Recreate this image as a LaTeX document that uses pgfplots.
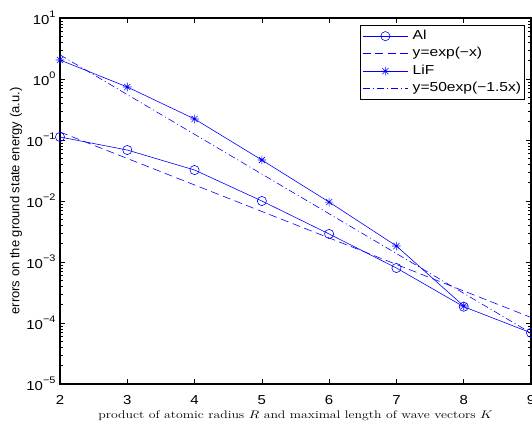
\documentclass[border=0pt]{standalone}
\usepackage{fontspec}
\setsansfont{Liberation Sans}
\usepackage{graphicx}
\usepackage{pgfplots}
\pgfplotsset{compat=1.18}

% MATLAB-like 8-arm star marker
\pgfdeclareplotmark{mstar}{%
  \pgfpathmoveto{\pgfqpoint{-\pgfplotmarksize}{0pt}}\pgfpathlineto{\pgfqpoint{\pgfplotmarksize}{0pt}}%
  \pgfpathmoveto{\pgfqpoint{0pt}{-\pgfplotmarksize}}\pgfpathlineto{\pgfqpoint{0pt}{\pgfplotmarksize}}%
  \pgfpathmoveto{\pgfqpoint{-0.707\pgfplotmarksize}{-0.707\pgfplotmarksize}}\pgfpathlineto{\pgfqpoint{0.707\pgfplotmarksize}{0.707\pgfplotmarksize}}%
  \pgfpathmoveto{\pgfqpoint{-0.707\pgfplotmarksize}{0.707\pgfplotmarksize}}\pgfpathlineto{\pgfqpoint{0.707\pgfplotmarksize}{-0.707\pgfplotmarksize}}%
  \pgfusepathqstroke}

\newcommand{\wide}[1]{\scalebox{1.15}[1]{#1}}
\newcommand{\dec}[1]{\wide{10\raisebox{0.52em}{\fontsize{9.5}{10}\selectfont #1}}}
\newcommand{\leg}[1]{\scalebox{1.2}[1]{#1}}

\begin{document}
\begin{tikzpicture}
\begin{axis}[
    scale only axis,
    width=471pt,
    height=366pt,
    ymode=log,
    xmin=2, xmax=9,
    ymin=1e-5, ymax=1e1,
    xtick={2,3,4,5,6,7,8,9},
    xticklabels={\wide{2},\wide{3},\wide{4},\wide{5},\wide{6},\wide{7},\wide{8},\wide{9}},
    ytick={1e-5,1e-4,1e-3,1e-2,1e-1,1e0,1e1},
    yticklabels={\dec{−5},\dec{−4},\dec{−3},\dec{−2},\dec{−1},\dec{0},\dec{1}},
    tick align=inside,
    major tick length=5.5pt,
    minor tick length=3pt,
    tick style={black, line width=0.5pt},
    axis line style={line width=1.1pt},
    ticklabel style={font=\sffamily\fontsize{13}{15}\selectfont},
    xticklabel style={anchor=base, yshift=-20pt},
    yticklabel style={anchor=east, xshift=-1pt},
    ylabel={\sffamily\fontsize{13}{15}\selectfont errors on the ground state energy (a.u.)},
    ylabel style={at={(axis description cs:-0.0934,0.5)}, anchor=center},
    xlabel={\scalebox{1.25}[1]{\fontsize{11}{13}\selectfont product of atomic radius $R$ and maximal length of wave vectors $K$}},
    xlabel style={at={(axis description cs:0.5,0)}, anchor=base, yshift=-34pt},
    legend style={
        at={(1,1)}, anchor=north east, xshift=-6pt, yshift=-7pt,
        font=\sffamily\fontsize{13}{15}\selectfont,
        draw=black, line width=0.8pt,
        inner xsep=2pt, inner ysep=2pt, row sep=0pt, column sep=3pt,
        nodes={inner ysep=2pt, inner xsep=1.5pt, text height=10pt, text depth=3.5pt},
        cells={anchor=west},
    },
    legend image code/.code={%
        \draw[mark repeat=2,mark phase=2,#1] plot coordinates {(0pt,0pt) (22.5pt,0pt) (45pt,0pt)};},
    every axis plot/.append style={blue, line width=0.6pt},
]
\addplot[mark=o, mark size=4.6pt, mark options={solid}] coordinates {
    (2,0.112) (3,0.0685) (4,0.0322) (5,0.0100) (6,0.00288) (7,0.000798) (8,0.000185) (9,0.000069)
};
\addlegendentry{\leg{Al}}
\addplot[dash pattern=on 8pt off 4.5pt] coordinates {
    (2,0.13534) (3,0.049787) (4,0.018316) (5,0.0067379) (6,0.0024788) (7,0.00091188) (8,0.00033546) (9,0.00012341)
};
\addlegendentry{\leg{y=exp(−x)}}
\addplot[mark=mstar, mark size=4.3pt, mark options={solid}] coordinates {
    (2,2.05) (3,0.74) (4,0.221) (5,0.047) (6,0.0096) (7,0.00183) (8,0.00019)
};
\addlegendentry{\leg{LiF}}
\addplot[dash pattern=on 7pt off 3pt on 1pt off 3pt] coordinates {
    (2,2.4894) (3,0.55545) (4,0.12394) (5,0.027654) (6,0.0061706) (7,0.0013768) (8,0.00030721) (9,6.8546e-5)
};
\addlegendentry{\leg{y=50exp(−1.5x)}}
\end{axis}
\pgfresetboundingbox
\useasboundingbox ([shift={(-60pt,-38pt)}]current axis.south west) rectangle ([shift={(1pt,18pt)}]current axis.north east);
\end{tikzpicture}
\end{document}
